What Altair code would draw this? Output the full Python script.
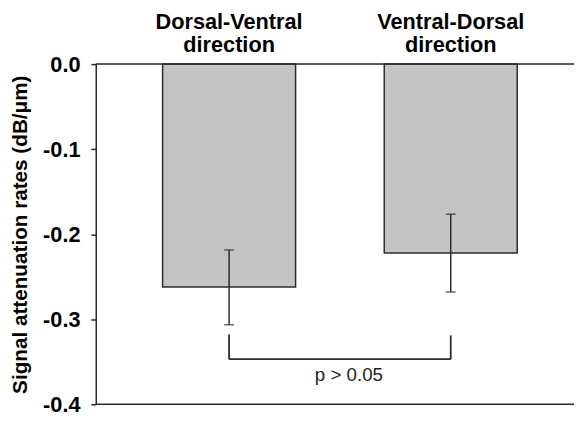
import altair as alt
import pandas as pd

categories = ["Dorsal-Ventral\ndirection", "Ventral-Dorsal\ndirection"]
means = [-0.262, -0.222]
err_upper = [-0.2185, -0.1765]
err_lower = [-0.3065, -0.268]
bracket_top = [-0.318, -0.319]
bracket_bottom = -0.347
p_label = "p > 0.05"
p_y = -0.373
y_ticks = [0.0, -0.1, -0.2, -0.3, -0.4]

df = pd.DataFrame({
    "cat": categories,
    "mean": means,
    "hi": err_upper,
    "lo": err_lower,
    "btop": bracket_top,
    "bbot": [bracket_bottom] * 2,
})

FONT = "Liberation Sans"
DARK = "#2b2b2b"

xscale = alt.Scale(paddingInner=0.4, paddingOuter=0.29, align=0.52)
x = alt.X(
    "cat:N",
    sort=None,
    scale=xscale,
    axis=alt.Axis(
        orient="top",
        title=None,
        ticks=False,
        tickSize=0,
        domain=False,
        labelAngle=0,
        labelExpr="split(datum.label, '\\n')",
        labelFont=FONT,
        labelFontSize=22,
        labelFontWeight="bold",
        labelColor="black",
        labelLineHeight=23,
        labelPadding=31,
    ),
)
yscale = alt.Scale(domain=[-0.4, 0.0], nice=False)
y = alt.Y(
    "mean:Q",
    scale=yscale,
    axis=alt.Axis(
        title="Signal attenuation rates (dB/\u03bcm)",
        titleFont=FONT,
        titleFontSize=21,
        titleFontWeight="bold",
        titleColor="black",
        titlePadding=12,
        values=y_ticks,
        labelExpr="(datum.value < 0 ? '-' : '') + format(abs(datum.value), '.1f')",
        labelFont=FONT,
        labelFontSize=22,
        labelFontWeight="bold",
        labelColor="black",
        labelPadding=11,
        tickSize=5,
        tickColor=DARK,
        tickWidth=1.5,
        domainColor=DARK,
        domainWidth=1.5,
        grid=False,
    ),
)

base = alt.Chart(df)

bars = base.mark_bar(color="#c4c4c4", stroke=DARK, strokeWidth=1.5).encode(x=x, y=y)

err = base.mark_rule(color=DARK, strokeWidth=1.5).encode(
    x=alt.X("cat:N", sort=None), y="hi:Q", y2="lo:Q"
)
cap_hi = base.mark_tick(color=DARK, thickness=1.5, size=10).encode(
    x=alt.X("cat:N", sort=None), y="hi:Q"
)
cap_lo = base.mark_tick(color=DARK, thickness=1.5, size=10).encode(
    x=alt.X("cat:N", sort=None), y="lo:Q"
)

bracket_v = base.mark_rule(color=DARK, strokeWidth=1.8).encode(
    x=alt.X("cat:N", sort=None), y="btop:Q", y2="bbot:Q"
)
bracket_h = alt.Chart(pd.DataFrame({
    "a": [categories[0]], "b": [categories[1]], "yb": [bracket_bottom]
})).mark_rule(color=DARK, strokeWidth=1.8).encode(
    x=alt.X("a:N", sort=categories), x2="b:N", y="yb:Q"
)

ptext = alt.Chart(pd.DataFrame({
    "cat": [categories[0]], "t": [p_label], "yy": [p_y]
})).mark_text(
    font=FONT, fontSize=19, color="#222", baseline="alphabetic", align="center", dx=121.5
).encode(x=alt.X("cat:N", sort=categories), y="yy:Q", text="t:N")

bottom_line = alt.Chart(pd.DataFrame({"v": [-0.4]})).mark_rule(
    color=DARK, strokeWidth=1.5
).encode(y="v:Q")

top_line = alt.Chart(pd.DataFrame({"v": [0.0]})).mark_rule(
    color=DARK, strokeWidth=1.5
).encode(y="v:Q")

chart = alt.layer(
    bars, err, cap_hi, cap_lo, bracket_v, bracket_h, ptext, bottom_line, top_line
).properties(
    width=574,
    height=410,
    padding={"left": 2, "top": 0, "right": -6, "bottom": 0},
    autosize=alt.AutoSizeParams(type="fit", contains="padding"),
).configure_view(stroke=None).configure(background="white")

chart.save("out.html", embed_options={"renderer": "svg", "actions": False})
